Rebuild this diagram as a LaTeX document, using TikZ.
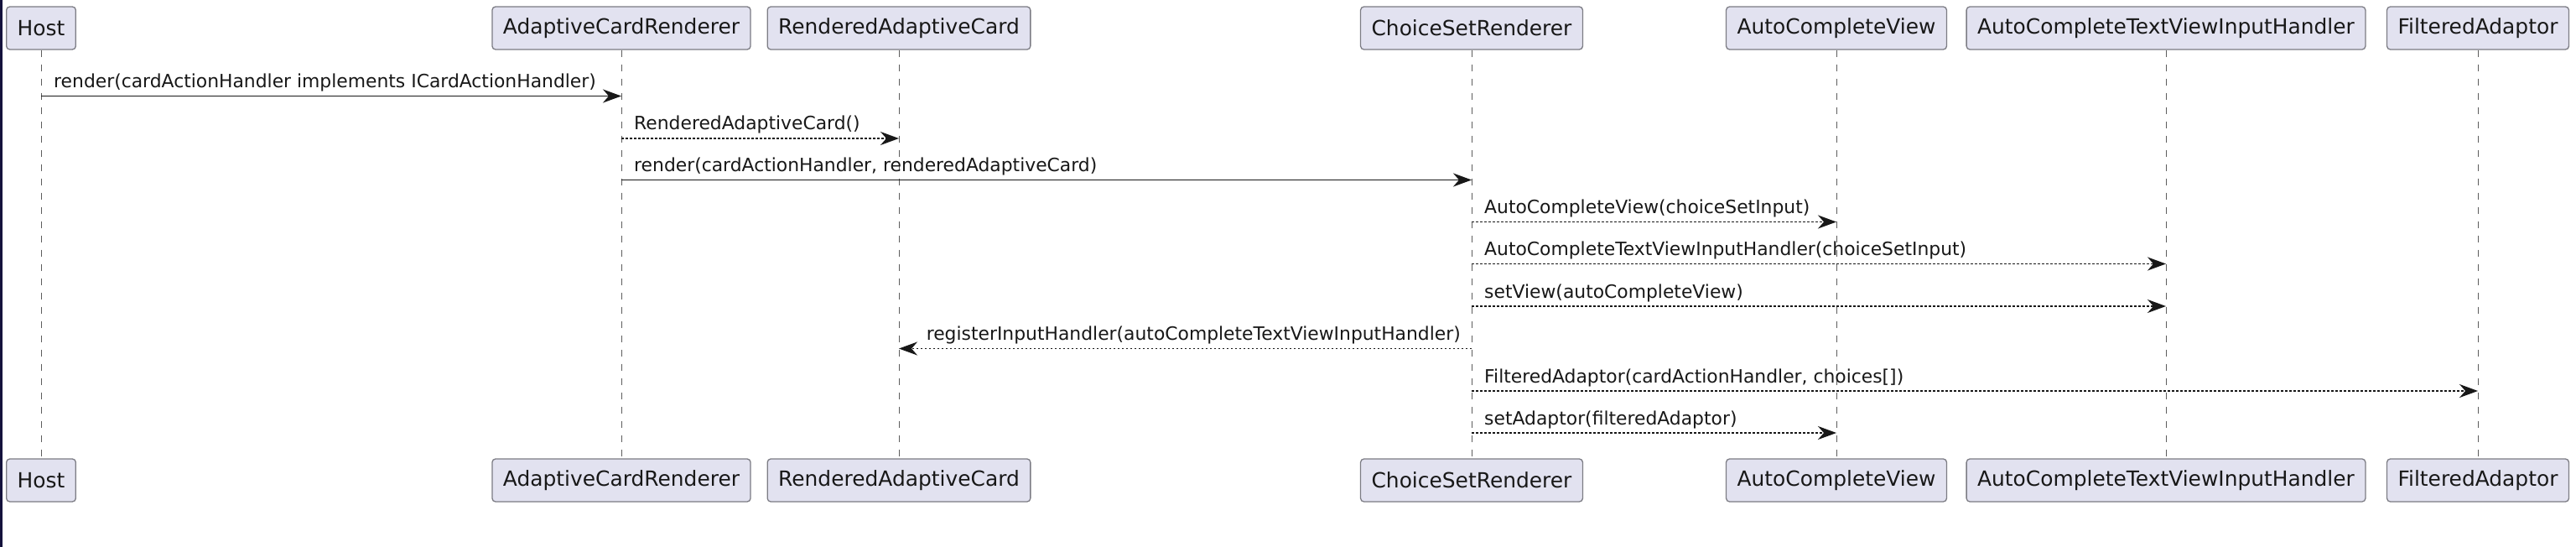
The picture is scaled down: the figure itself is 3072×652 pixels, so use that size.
\documentclass[tikz,border=0pt]{standalone}
\usepackage{fontspec}
\setmainfont{DejaVu Sans}
\usetikzlibrary{arrows.meta}
\definecolor{ink}{HTML}{181818}
\definecolor{partfill}{HTML}{E2E2F0}
\definecolor{partline}{HTML}{7C7C84}
\definecolor{strip}{HTML}{14123C}
\newcommand{\partfont}{\fontsize{24.9}{28}\selectfont}
\newcommand{\msgfont}{\fontsize{21.85}{25}\selectfont}
\tikzset{
  part/.style={draw=partline, fill=partfill, rounded corners=4pt, line width=1.3pt,
    font=\partfont, text=ink, minimum height=51pt, inner xsep=13pt, inner ysep=0pt},
  lifeline/.style={draw=ink!70, line width=1pt, dash pattern=on 8.5pt off 8.5pt},
  sync/.style={draw=ink, line width=1.6pt, -{Stealth[length=22pt,width=16pt,inset=7pt]}},
  reply/.style={draw=ink, line width=1.6pt, dash pattern=on 2.5pt off 2.5pt,
    -{Stealth[length=22pt,width=16pt,inset=7pt]}},
  msg/.style={font=\msgfont, text=ink, inner sep=0pt}
}
\begin{document}
\begin{tikzpicture}[x=1pt,y=-1pt]
\useasboundingbox (0,0) rectangle (3072,652);
\fill[white] (0,0) rectangle (3072,652);
\fill[strip] (0,0) rectangle (3,652);

% participants (top and bottom)
\foreach \nm/\cx/\txt in {host/49/Host, acr/741/AdaptiveCardRenderer, rac/1072/RenderedAdaptiveCard,
  csr/1755/ChoiceSetRenderer, acv/2190/AutoCompleteView, ah/2583/AutoCompleteTextViewInputHandler,
  fa/2955/FilteredAdaptor}{
  \node[part] (\nm T) at (\cx,33.5) {\txt};
  \node[part] (\nm B) at (\cx,572.5) {\txt};
}

% lifelines
\foreach \nm in {host,acr,rac,csr,acv,ah,fa}{
  \draw[lifeline] (\nm T.south) -- (\nm B.north);
}

% message rows
\coordinate (r1) at (0,114.5);
\coordinate (r2) at (0,165);
\coordinate (r3) at (0,214.5);
\coordinate (r4) at (0,264.5);
\coordinate (r5) at (0,314.5);
\coordinate (r6) at (0,365);
\coordinate (r7) at (0,415.5);
\coordinate (r8) at (0,466);
\coordinate (r9) at (0,516);

\draw[sync] (hostT |- r1) -- (acrT |- r1);
\node[msg, anchor=base west] (l1) at ([xshift=15pt,yshift=10pt]hostT |- r1) {render(cardActionHandler implements ICardActionHandler)};

\draw[reply] (acrT |- r2) -- (racT |- r2);
\node[msg, anchor=base west] (l2) at ([xshift=15pt,yshift=10pt]acrT |- r2) {RenderedAdaptiveCard()};

\draw[sync] (acrT |- r3) -- (csrT |- r3);
\node[msg, anchor=base west] (l3) at ([xshift=15pt,yshift=10pt]acrT |- r3) {render(cardActionHandler, renderedAdaptiveCard)};

\draw[reply] (csrT |- r4) -- (acvT |- r4);
\node[msg, anchor=base west] (l4) at ([xshift=15pt,yshift=10pt]csrT |- r4) {AutoCompleteView(choiceSetInput)};

\draw[reply] (csrT |- r5) -- (ahT |- r5);
\node[msg, anchor=base west] (l5) at ([xshift=15pt,yshift=10pt]csrT |- r5) {AutoCompleteTextViewInputHandler(choiceSetInput)};

\draw[reply] (csrT |- r6) -- (ahT |- r6);
\node[msg, anchor=base west] (l6) at ([xshift=15pt,yshift=10pt]csrT |- r6) {setView(autoCompleteView)};

\draw[reply] (csrT |- r7) -- (racT |- r7);
\node[msg, anchor=base east] (l7) at ([xshift=-13pt,yshift=10pt]csrT |- r7) {registerInputHandler(autoCompleteTextViewInputHandler)};

\draw[reply] (csrT |- r8) -- (faT |- r8);
\node[msg, anchor=base west] (l8) at ([xshift=15pt,yshift=10pt]csrT |- r8) {FilteredAdaptor(cardActionHandler, choices[])};

\draw[reply] (csrT |- r9) -- (acvT |- r9);
\node[msg, anchor=base west] (l9) at ([xshift=15pt,yshift=10pt]csrT |- r9) {setAdaptor(filteredAdaptor)};
\end{tikzpicture}
\end{document}
